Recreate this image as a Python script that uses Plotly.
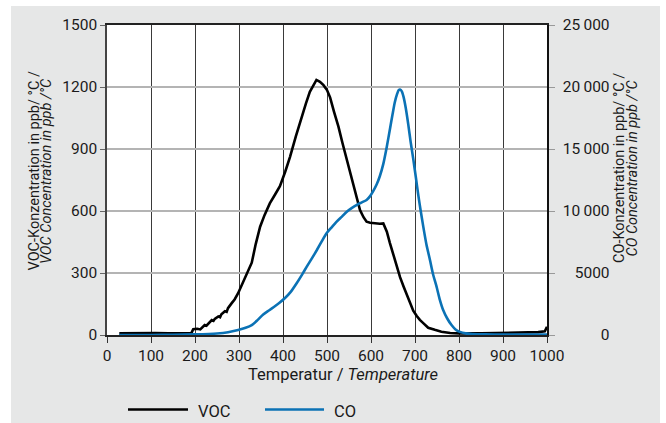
import plotly.graph_objects as go

# ---------------- data ----------------
voc_temp = [28, 50, 80, 110, 140, 170, 192, 196, 205, 212, 215, 222, 226, 230, 238, 242, 245, 253, 257,
            260, 268, 272, 275, 283, 290, 298, 306, 314, 322, 329, 338, 348, 358, 370, 382, 393, 405,
            416, 429, 442, 452, 461, 470, 476, 484, 492, 500, 507, 516, 526, 535, 545, 553, 560, 568,
            575, 583, 590, 598, 610, 620, 628, 636, 643, 651, 658, 666, 674, 681, 689, 696, 704, 711,
            720, 730, 745, 760, 780, 800, 850, 900, 950, 980, 995, 1000]
voc_vals = [8, 9, 8, 9, 8, 9, 10, 28, 30, 27, 33, 48, 45, 55, 72, 68, 78, 90, 86,
            100, 115, 112, 130, 153, 172, 202, 240, 282, 312, 350, 440, 524, 580, 637, 680, 720, 790,
            862, 960, 1056, 1120, 1177, 1215, 1234, 1225, 1209, 1185, 1150, 1080, 1008, 930, 847, 780, 717, 660,
            605, 570, 548, 543, 540, 538, 540, 500, 445, 385, 330, 280, 235, 195, 150, 118, 92, 73,
            55, 35, 25, 16, 10, 8, 8, 10, 11, 14, 18, 40]

co_temp = [28, 100, 150, 200, 250, 275, 298, 315, 329, 342, 355, 368, 380, 392, 404, 418, 431, 443,
           454, 466, 477, 488, 499, 511, 522, 534, 545, 556, 567, 578, 590, 598, 605, 613, 620, 628,
           636, 643, 649, 654, 659, 663, 666, 670, 674, 679, 685, 690, 696, 702, 707, 713, 719, 726,
           734, 741, 749, 756, 764, 773, 783, 792, 802, 815, 830, 860, 900, 950, 1000]
co_vals = [0, 0, 20, 50, 120, 220, 400, 580, 800, 1200, 1650, 1980, 2280, 2600, 2960, 3500, 4170, 4850,
           5510, 6200, 6855, 7550, 8200, 8700, 9140, 9550, 9945, 10230, 10480, 10680, 10890, 11200, 11600,
           12150, 12800, 13800, 15200, 16600, 17800, 18750, 19400, 19750, 19800, 19650, 19200, 18300,
           16900, 15600, 14200, 12700, 11400, 10000, 8700, 7300, 6050, 4900, 3900, 2900, 2015, 1350, 800,
           450, 250, 130, 80, 50, 40, 40, 40]

x_ticks = [0, 100, 200, 300, 400, 500, 600, 700, 800, 900, 1000]
y_left_ticks = [0, 300, 600, 900, 1200, 1500]
y_right_ticks = [0, 5000, 10000, 15000, 20000, 25000]
FS, TS = "\u2007", "\u2009"
y_right_text = [FS * 4 + TS + "0", FS + TS + "5000", "10" + TS + "000", "15" + TS + "000",
                "20" + TS + "000", "25" + TS + "000"]

series_names = ["VOC", "CO"]
voc_color = "#000000"
co_color = "#0b72b5"
bg_gray = "#e6e7e7"
FONT = "Roboto, Liberation Sans, sans-serif"

# ---------------- geometry (pixels) ----------------
W, H = 666, 423
L, R, T, B = 107, 547, 25, 335
pw, ph = R - L, B - T


def px(x):
    return (x - L) / pw


def py(y):
    return (B - y) / ph


fig = go.Figure()
fig.add_trace(go.Scatter(x=voc_temp, y=voc_vals, mode="lines", name=series_names[0],
                         line=dict(color=voc_color, width=2.6), yaxis="y", showlegend=False))
fig.add_trace(go.Scatter(x=co_temp, y=co_vals, mode="lines", name=series_names[1],
                         line=dict(color=co_color, width=2.6, shape="spline", smoothing=0.6),
                         yaxis="y2", showlegend=False))

fig.update_layout(
    width=W, height=H,
    margin=dict(l=L, r=W - R, t=T, b=H - B, pad=0),
    paper_bgcolor="white",
    plot_bgcolor="white",
    font=dict(family=FONT, size=15, color="#1a1a1a"),
    xaxis=dict(range=[0, 1000], tickvals=x_ticks, ticks="outside", ticklen=6, tickwidth=1.3,
               tickcolor="#333333", showgrid=True, gridcolor="#3a3a3a", gridwidth=1.3,
               showline=True, linecolor="#222222", linewidth=1.5, mirror=True, zeroline=False,
               tickfont=dict(size=15.5), fixedrange=True),
    yaxis=dict(range=[0, 1500], tickvals=y_left_ticks, ticks="outside", ticklen=5, tickwidth=1.3,
               tickcolor="#666666", showgrid=True, gridcolor="#b4b4b4", gridwidth=1.5,
               showline=True, linecolor="#444444", linewidth=1.5, zeroline=False,
               tickfont=dict(size=15.5)),
    yaxis2=dict(range=[0, 25000], tickvals=y_right_ticks, ticktext=y_right_text, overlaying="y",
                side="right", ticks="outside", ticklen=6, tickwidth=1.3, tickcolor="#999999",
                showgrid=False, showline=True, linecolor="#111111", linewidth=1.5, zeroline=False,
                tickfont=dict(size=15.5), ticklabelstandoff=5),
)

shapes = [
    dict(type="rect", xref="paper", yref="paper", x0=px(11), x1=px(660), y0=py(430), y1=py(6),
         fillcolor=bg_gray, line=dict(width=0), layer="below"),
    dict(type="rect", xref="paper", yref="paper", x0=0, x1=1, y0=0, y1=1,
         fillcolor="white", line=dict(width=0), layer="below"),
    dict(type="line", xref="paper", yref="paper", x0=px(128), x1=px(188), y0=py(409.5), y1=py(409.5),
         line=dict(color=voc_color, width=2.6)),
    dict(type="line", xref="paper", yref="paper", x0=px(265), x1=px(324), y0=py(409.5), y1=py(409.5),
         line=dict(color=co_color, width=2.6)),
]

ann_common = dict(xref="paper", yref="paper", showarrow=False)
annotations = [
    dict(x=px(343), y=py(375), text="Temperatur / <i>Temperature</i>", xanchor="center",
         yanchor="middle", font=dict(size=16.5), **ann_common),
    dict(x=px(196), y=py(411), text=series_names[0], xanchor="left", yanchor="middle",
         font=dict(size=16.5), **ann_common),
    dict(x=px(332), y=py(411), text=series_names[1], xanchor="left", yanchor="middle",
         font=dict(size=16.5), **ann_common),
    dict(x=px(33.5), y=py(171), text="VOC-Konzentration in ppb/ °C /", textangle=-90,
         xanchor="center", yanchor="middle", font=dict(size=14.5), **ann_common),
    dict(x=px(46), y=py(171), text="<i>VOC Concentration in ppb /°C</i>", textangle=-90,
         xanchor="center", yanchor="middle", font=dict(size=14.5), **ann_common),
    dict(x=px(619), y=py(168), text="CO-Konzentration in ppb/ °C /", textangle=-90,
         xanchor="center", yanchor="middle", font=dict(size=14.5), **ann_common),
    dict(x=px(631.5), y=py(168), text="<i>CO Concentration in ppb /°C</i>", textangle=-90,
         xanchor="center", yanchor="middle", font=dict(size=14.5), **ann_common),
]
fig.update_layout(shapes=shapes, annotations=annotations)

fig.write_html("out.html")
